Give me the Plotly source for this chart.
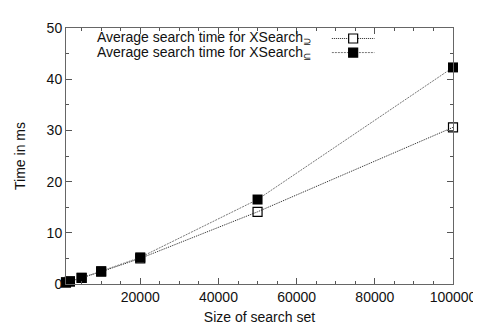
import plotly.graph_objects as go

set_sizes = [1000, 2000, 5000, 10000, 20000, 50000, 100000]
time_superset = [0.3, 0.5, 1.2, 2.4, 5.0, 14.1, 30.6]
time_subset = [0.3, 0.5, 1.2, 2.5, 5.2, 16.5, 42.3]
legend_labels = ["Average search time for XSearch<sub>⊇</sub>",
                 "Average search time for XSearch<sub>⊆</sub>"]

FONT = "Liberation Sans, Arial, sans-serif"

fig = go.Figure()
fig.add_trace(go.Scatter(
    x=set_sizes, y=time_superset, mode="lines+markers",
    line=dict(color="#222", width=1, dash="1px,1px"),
    marker=dict(symbol="square-open", size=9, color="black", line=dict(width=1.2, color="black")),
    cliponaxis=False, showlegend=False))
fig.add_trace(go.Scatter(
    x=set_sizes, y=time_subset, mode="lines+markers",
    line=dict(color="#777", width=1, dash="2px,1px"),
    marker=dict(symbol="square", size=10, color="black"),
    cliponaxis=False, showlegend=False))

axis_common = dict(
    showline=True, linecolor="#666", linewidth=1, mirror="allticks",
    ticks="inside", ticklen=6, tickcolor="#555", showgrid=False, zeroline=False,
    tickfont=dict(family=FONT, size=14, color="#111"),
)
fig.update_xaxes(range=[1000, 100000], tickvals=[20000, 40000, 60000, 80000, 100000],
                 ticktext=["20000", "40000", "60000", "80000", "100000"],
                 minor=dict(dtick=5000, tick0=0, ticks="inside", ticklen=3, tickcolor="#555"),
                 title=dict(text="Size of search set", font=dict(family=FONT, size=14, color="#111"), standoff=8),
                 **axis_common)
fig.update_yaxes(range=[0, 50], dtick=10,
                 minor=dict(dtick=5, ticks="inside", ticklen=3, tickcolor="#555"),
                 title=dict(text="Time in ms", font=dict(family=FONT, size=14, color="#111"), standoff=17),
                 **axis_common)

# legend drawn manually (text on left, sample on right, like gnuplot)
rows = [(0.959, "1px,1px", "#222", False), (0.904, "2px,1px", "#777", True)]
for (yp, dash, col, filled), label in zip(rows, legend_labels):
    fig.add_annotation(xref="paper", yref="paper", x=0.639, y=yp, text=label,
                       showarrow=False, xanchor="right", yanchor="middle",
                       font=dict(family=FONT, size=14, color="#111"))
    fig.add_shape(type="line", xref="paper", yref="paper", x0=0.687, x1=0.797, y0=yp, y1=yp,
                  line=dict(color=col, width=1, dash=dash))
    fig.add_shape(type="rect", xref="paper", yref="paper", xsizemode="pixel", ysizemode="pixel",
                  xanchor=0.742, yanchor=yp, x0=-4.5, x1=4.5, y0=-4.5, y1=4.5,
                  fillcolor="black" if filled else "white", line=dict(color="black", width=1.2))

fig.update_layout(
    width=481, height=327,
    margin=dict(l=57, r=25, t=13, b=44),
    plot_bgcolor="white", paper_bgcolor="white",
    font=dict(family=FONT, size=14, color="#111"),
)
fig.write_html("out.html")
